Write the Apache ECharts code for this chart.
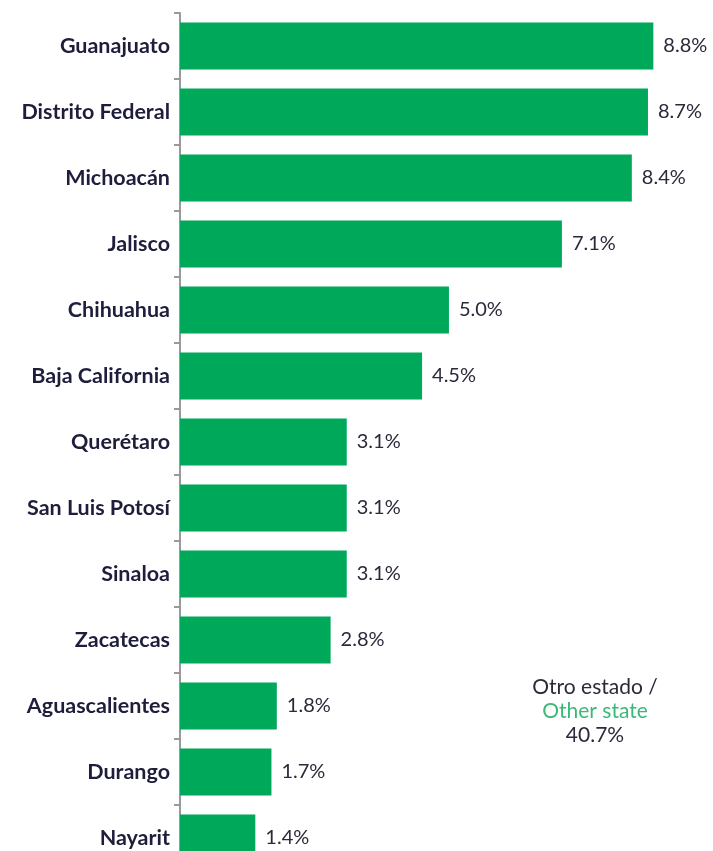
<!DOCTYPE html>
<html lang="es">
<head>
    <meta charset="UTF-8">
    <script src="https://cdn.jsdelivr.net/npm/echarts@6/dist/echarts.min.js"></script>
    <style type="text/css">
        html, body, #main {
            height: 100%;
            width: 100%;
            margin: 0;
            padding: 0;
            background: #fff;
        }
    </style>
    <title>Estados</title>
</head>
<body>
<div id="main"></div>
<script>
    var states = ['Guanajuato', 'Distrito Federal', 'Michoacán', 'Jalisco', 'Chihuahua',
        'Baja California', 'Querétaro', 'San Luis Potosí', 'Sinaloa', 'Zacatecas',
        'Aguascalientes', 'Durango', 'Nayarit'];
    var shares = [8.8, 8.7, 8.4, 7.1, 5.0, 4.5, 3.1, 3.1, 3.1, 2.8, 1.8, 1.7, 1.4];
    var otherLabel = ['Otro estado /', 'Other state'];
    var otherShare = 40.7;

    var myChart = echarts.init(document.getElementById('main'));
    var option = {
        animation: false,
        grid: {
            left: 180,
            right: 22,
            top: 13,
            height: 858,
            containLabel: false,
            outerBoundsMode: 'none'
        },
        xAxis: {
            type: 'value',
            min: 0,
            max: 9.5,
            show: false
        },
        yAxis: {
            type: 'category',
            data: states,
            inverse: true,
            axisLine: {lineStyle: {color: '#9a9a9a', width: 2}},
            axisTick: {show: true, length: 6, lineStyle: {color: '#9a9a9a', width: 2}},
            axisLabel: {
                margin: 10,
                color: '#1e1e3c',
                fontFamily: 'Lato',
                fontWeight: 'bold',
                fontSize: 21.5
            }
        },
        series: [{
            type: 'bar',
            data: shares,
            barCategoryGap: '29%',
            itemStyle: {color: '#00a85a'},
            label: {
                show: true,
                position: 'right',
                distance: 10,
                color: '#2a2a3a',
                fontFamily: 'Lato',
                fontSize: 20,
                formatter: function (p) {
                    return p.value.toFixed(1) + '%';
                }
            }
        }],
        graphic: [{
            type: 'text',
            x: 595,
            y: 675,
            style: {
                text: '{a|' + otherLabel[0] + '}\n{b|' + otherLabel[1] + '}\n{a|' + otherShare.toFixed(1) + '%}',
                align: 'center',
                rich: {
                    a: {fontFamily: 'Lato', fontSize: 21, fill: '#2a2a3a', lineHeight: 24, align: 'center'},
                    b: {fontFamily: 'Lato', fontSize: 21, fill: '#3cb878', lineHeight: 24, align: 'center'}
                }
            }
        }]
    };
    myChart.setOption(option);
</script>
</body>
</html>
